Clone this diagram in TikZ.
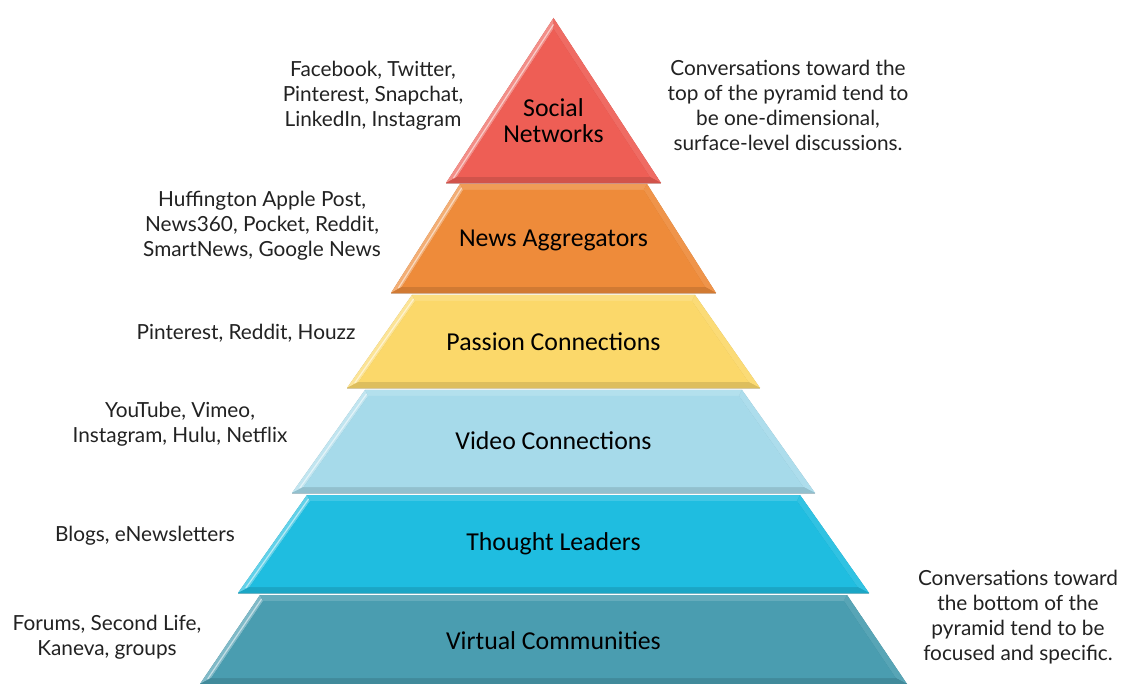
\documentclass[tikz,border=0pt]{standalone}
\usepackage{fontspec}
\setmainfont{Lato}
\newfontfamily\labelfont{Carlito}
\usetikzlibrary{calc}

\definecolor{redL}{RGB}{238,94,85}
\definecolor{orangeL}{RGB}{238,139,58}
\definecolor{yellowL}{RGB}{251,216,106}
\definecolor{skyL}{RGB}{166,218,234}
\definecolor{cyanL}{RGB}{31,189,224}
\definecolor{tealL}{RGB}{74,157,176}
\definecolor{inkL}{RGB}{34,34,34}

\def\pyrCx{553.5}
\def\pyrBev{6}

% one bevelled layer of the pyramid:
% #1 colour, #2 top y, #3 bottom y, #4 half width at top, #5 half width at bottom, #6 name
\newcommand\pyrlayer[6]{%
  \pgfmathsetmacro\pyS{(#5-#4)/(#3-#2)}%
  \pgfmathsetmacro\pyIns{\pyrBev*sqrt(1+\pyS*\pyS)}%
  \pgfmathsetmacro\pyYti{#2+max(\pyrBev,(\pyIns-#4)/\pyS)}%
  \pgfmathsetmacro\pyHti{#4+\pyS*(\pyYti-#2)-\pyIns}%
  \pgfmathsetmacro\pyYbi{#3-\pyrBev}%
  \pgfmathsetmacro\pyHbi{#4+\pyS*(\pyYbi-#2)-\pyIns}%
  \coordinate (#6-otl) at (\pyrCx-#4,#2);
  \coordinate (#6-otr) at (\pyrCx+#4,#2);
  \coordinate (#6-obl) at (\pyrCx-#5,#3);
  \coordinate (#6-obr) at (\pyrCx+#5,#3);
  \coordinate (#6-itl) at (\pyrCx-\pyHti,\pyYti);
  \coordinate (#6-itr) at (\pyrCx+\pyHti,\pyYti);
  \coordinate (#6-ibl) at (\pyrCx-\pyHbi,\pyYbi);
  \coordinate (#6-ibr) at (\pyrCx+\pyHbi,\pyYbi);
  \fill[#1!82!black] (#6-otl) -- (#6-otr) -- (#6-obr) -- (#6-obl) -- cycle;
  \fill[#1!70!white] (#6-otl) -- (#6-obl) -- (#6-ibl) -- (#6-itl) -- cycle;
  \fill[#1!85!white] (#6-otl) -- (#6-otr) -- (#6-itr) -- (#6-itl) -- cycle;
  \fill[#1!92!white] (#6-otr) -- (#6-obr) -- (#6-ibr) -- (#6-itr) -- cycle;
  \fill[#1!88!black] (#6-obl) -- (#6-obr) -- (#6-ibr) -- (#6-ibl) -- cycle;
  \fill[#1] (#6-itl) -- (#6-itr) -- (#6-ibr) -- (#6-ibl) -- cycle;
  \draw[white,opacity=0.55,line width=1.2pt]
    ($(#6-otl)!0.5!(#6-itl)+(0,1)$) -- ($(#6-obl)!0.5!(#6-ibl)+(2,-2)$);
  \draw[#1!70!black,opacity=0.5,line width=0.8pt] (#6-obl) -- (#6-obr);
}

\tikzset{
  side/.style={font=\fontsize{20.8}{25}\selectfont, text=inkL, align=center, inner sep=0pt},
  tier/.style={font=\labelfont\fontsize{25.8}{26}\selectfont, text=black, align=center, inner sep=0pt},
}

\begin{document}
\begin{tikzpicture}[x=1pt,y=-1pt]
  \useasboundingbox[fill=white] (0,0) rectangle (1122,684);

  % layers, bottom first
  \pyrlayer{tealL}{595}{684}{293.5}{353.5}{lv}
  \pyrlayer{cyanL}{495}{593}{246.5}{315.5}{lt}
  \pyrlayer{skyL}{390}{493}{188.5}{261.5}{lo}
  \pyrlayer{yellowL}{295}{388}{141.5}{206.5}{lp}
  \pyrlayer{orangeL}{184}{293}{93.5}{162.5}{ln}
  \pyrlayer{redL}{18}{183}{0}{107.5}{ls}

  % tier labels
  \node[tier] (nSocial)  at (553.5,121) {Social\\Networks};
  \node[tier] (nNews)    at (553.5,240) {News Aggregators};
  \node[tier] (nPassion) at (553.5,342) {Passion Connections};
  \node[tier] (nVideo)   at (553.5,441) {Video Connections};
  \node[tier] (nThought) at (553.5,544) {Thought Leaders};
  \node[tier] (nVirtual) at (553.5,641) {Virtual Communities};

  % platform examples
  \node[side] (eSocial)  at (373,96)  {Facebook, Twitter,\\Pinterest, Snapchat,\\LinkedIn, Instagram};
  \node[side] (eNews)    at (262,226) {Huffington Apple Post,\\News360, Pocket, Reddit,\\SmartNews, Google News};
  \node[side] (ePassion) at (246,333) {Pinterest, Reddit, Houzz};
  \node[side] (eVideo)   at (180,424) {YouTube, Vimeo,\\Instagram, Hulu, Netflix};
  \node[side] (eThought) at (145,536) {Blogs, eNewsletters};
  \node[side] (eVirtual) at (107,637) {Forums, Second Life,\\Kaneva, groups};

  % notes
  \node[side] (noteTop)    at (788,105)  {Conversations toward the\\top of the pyramid tend to\\be one-dimensional,\\surface-level discussions.};
  \node[side] (noteBottom) at (1018,617) {Conversations toward\\the bottom of the\\pyramid tend to be\\focused and specific.};
\end{tikzpicture}
\end{document}
